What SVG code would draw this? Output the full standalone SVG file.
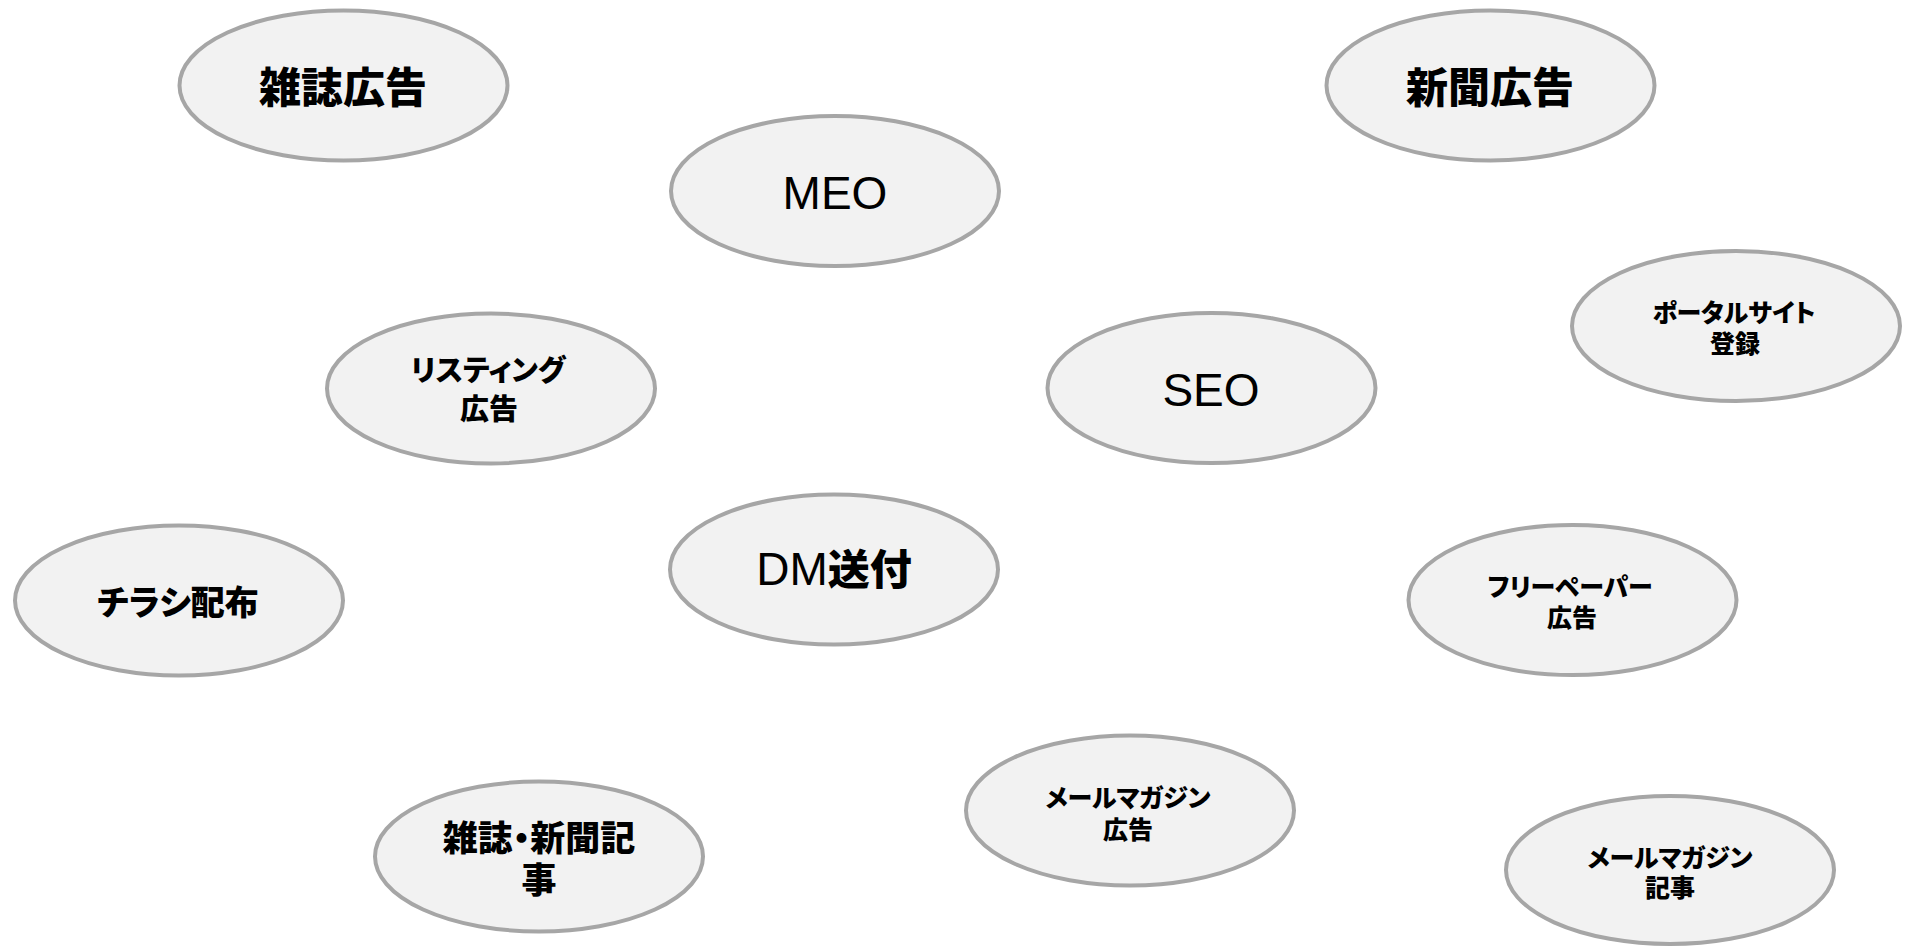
<svg xmlns="http://www.w3.org/2000/svg" width="1910" height="947" viewBox="0 0 1910 947">
<style>
.n{fill:#f2f2f2;stroke:#a6a6a6;stroke-width:4}
.jp{font-family:"Noto Sans CJK JP","Noto Sans CJK SC",sans-serif;font-weight:900;fill:#000;text-anchor:middle;font-feature-settings:"palt"}
.en{font-family:"Liberation Sans",Arial,sans-serif;font-size:46px;fill:#000;text-anchor:middle}
.L{font-size:42px}
.M{font-size:34px}
.S{font-size:25px}
</style>
<rect width="1910" height="947" fill="#fff"/>
<g id="connectors"></g>
<g id="n1"><ellipse class="n" cx="343.5" cy="85.5" rx="164" ry="75"/><text class="jp L" x="343" y="103">雑誌広告</text></g>
<g id="n2"><ellipse class="n" cx="1490.5" cy="85.5" rx="164" ry="75"/><text class="jp L" x="1490" y="103">新聞広告</text></g>
<g id="n3"><ellipse class="n" cx="835" cy="191" rx="164" ry="75"/><text class="en" x="835" y="209">MEO</text></g>
<g id="n4"><ellipse class="n" cx="1736" cy="326" rx="164" ry="75"/><text class="jp S" x="1734" y="322">ポータルサイト<tspan x="1735" dy="31">登録</tspan></text></g>
<g id="n5"><ellipse class="n" cx="491" cy="388.5" rx="164" ry="75"/><text class="jp" style="font-size:29px" x="488" y="381">リスティング<tspan x="489" dy="39">広告</tspan></text></g>
<g id="n6"><ellipse class="n" cx="1211.5" cy="388" rx="164" ry="75"/><text class="en" x="1211" y="406">SEO</text></g>
<g id="n7"><ellipse class="n" cx="179" cy="600.5" rx="164" ry="75"/><text class="jp M" x="178" y="615">チラシ配布</text></g>
<g id="n8"><ellipse class="n" cx="834" cy="569.5" rx="164" ry="75"/><text class="en" x="834" y="585">DM<tspan class="jp" style="font-size:42px">送付</tspan></text></g>
<g id="n9"><ellipse class="n" cx="1572.5" cy="600" rx="164" ry="75"/><text class="jp S" x="1570" y="596">フリーペーパー<tspan x="1572" dy="31">広告</tspan></text></g>
<g id="n10"><ellipse class="n" cx="1130" cy="810.5" rx="164" ry="75"/><text class="jp S" x="1128" y="807">メールマガジン<tspan x="1128" dy="32">広告</tspan></text></g>
<g id="n11"><ellipse class="n" cx="539" cy="856.5" rx="164" ry="75"/><text class="jp" style="font-size:35px" x="539" y="851">雑誌・新聞記<tspan x="539" dy="42">事</tspan></text></g>
<g id="n12"><ellipse class="n" cx="1670" cy="870" rx="164" ry="74"/><text class="jp S" x="1670" y="867">メールマガジン<tspan x="1670" dy="30">記事</tspan></text></g>
</svg>
